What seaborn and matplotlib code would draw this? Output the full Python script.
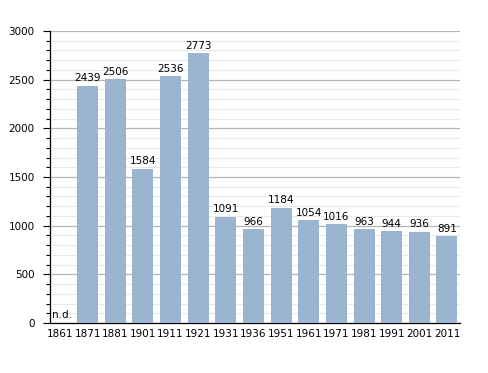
import numpy as np
import pandas as pd
import matplotlib
matplotlib.use("Agg")
import matplotlib.pyplot as plt
from matplotlib.ticker import MultipleLocator
import seaborn as sns

sns.set_style("white")
plt.rcParams['font.family'] = ['DejaVu Sans']
plt.rcParams['text.color'] = 'black'
plt.rcParams['xtick.color'] = 'black'
plt.rcParams['ytick.color'] = 'black'

years = ["1861", "1871", "1881", "1901", "1911", "1921", "1931", "1936",
         "1951", "1961", "1971", "1981", "1991", "2001", "2011"]
population = [np.nan, 2439, 2506, 1584, 2536, 2773, 1091, 966,
              1184, 1054, 1016, 963, 944, 936, 891]

df = pd.DataFrame({"year": years, "pop": population})

fig = plt.figure(figsize=(4.88, 3.73), dpi=100)
ax = fig.add_axes([0.1025, 0.134, 0.84, 0.783])

sns.barplot(data=df, x="year", y="pop", color="#9bb4cf", saturation=1,
            width=0.76, linewidth=0, ax=ax, zorder=3)

ax.set_ylim(0, 3000)
ax.set_xlim(-0.36, 14.47)
ax.yaxis.set_major_locator(MultipleLocator(500))
ax.yaxis.set_minor_locator(MultipleLocator(100))
ax.grid(which="major", axis="y", color="#b4b4b4", lw=0.9, zorder=0)
ax.grid(which="minor", axis="y", color="#e9e9e9", lw=0.8, zorder=0)
ax.set_axisbelow(True)

for s in ["top", "right"]:
    ax.spines[s].set_visible(False)
ax.spines["left"].set_color("black")
ax.spines["bottom"].set_color("black")
ax.spines["left"].set_linewidth(0.9)
ax.spines["bottom"].set_linewidth(0.9)

ax.tick_params(axis="y", which="major", direction="out", length=5, width=0.8,
               labelsize=7.5, pad=6, left=True)
ax.tick_params(axis="y", which="minor", direction="out", length=3, width=0.8, left=True)
ax.tick_params(axis="x", length=0, labelsize=7.5, pad=4)
ax.set_xlabel("")
ax.set_ylabel("")

for i, v in enumerate(population):
    if np.isnan(v):
        ax.text(i - 0.3, 30, "n.d.", ha="left", va="bottom", fontsize=7.5)
    else:
        ax.text(i, v + 25, f"{int(v)}", ha="center", va="bottom", fontsize=7.5)

fig.savefig("out.png", dpi=100)
